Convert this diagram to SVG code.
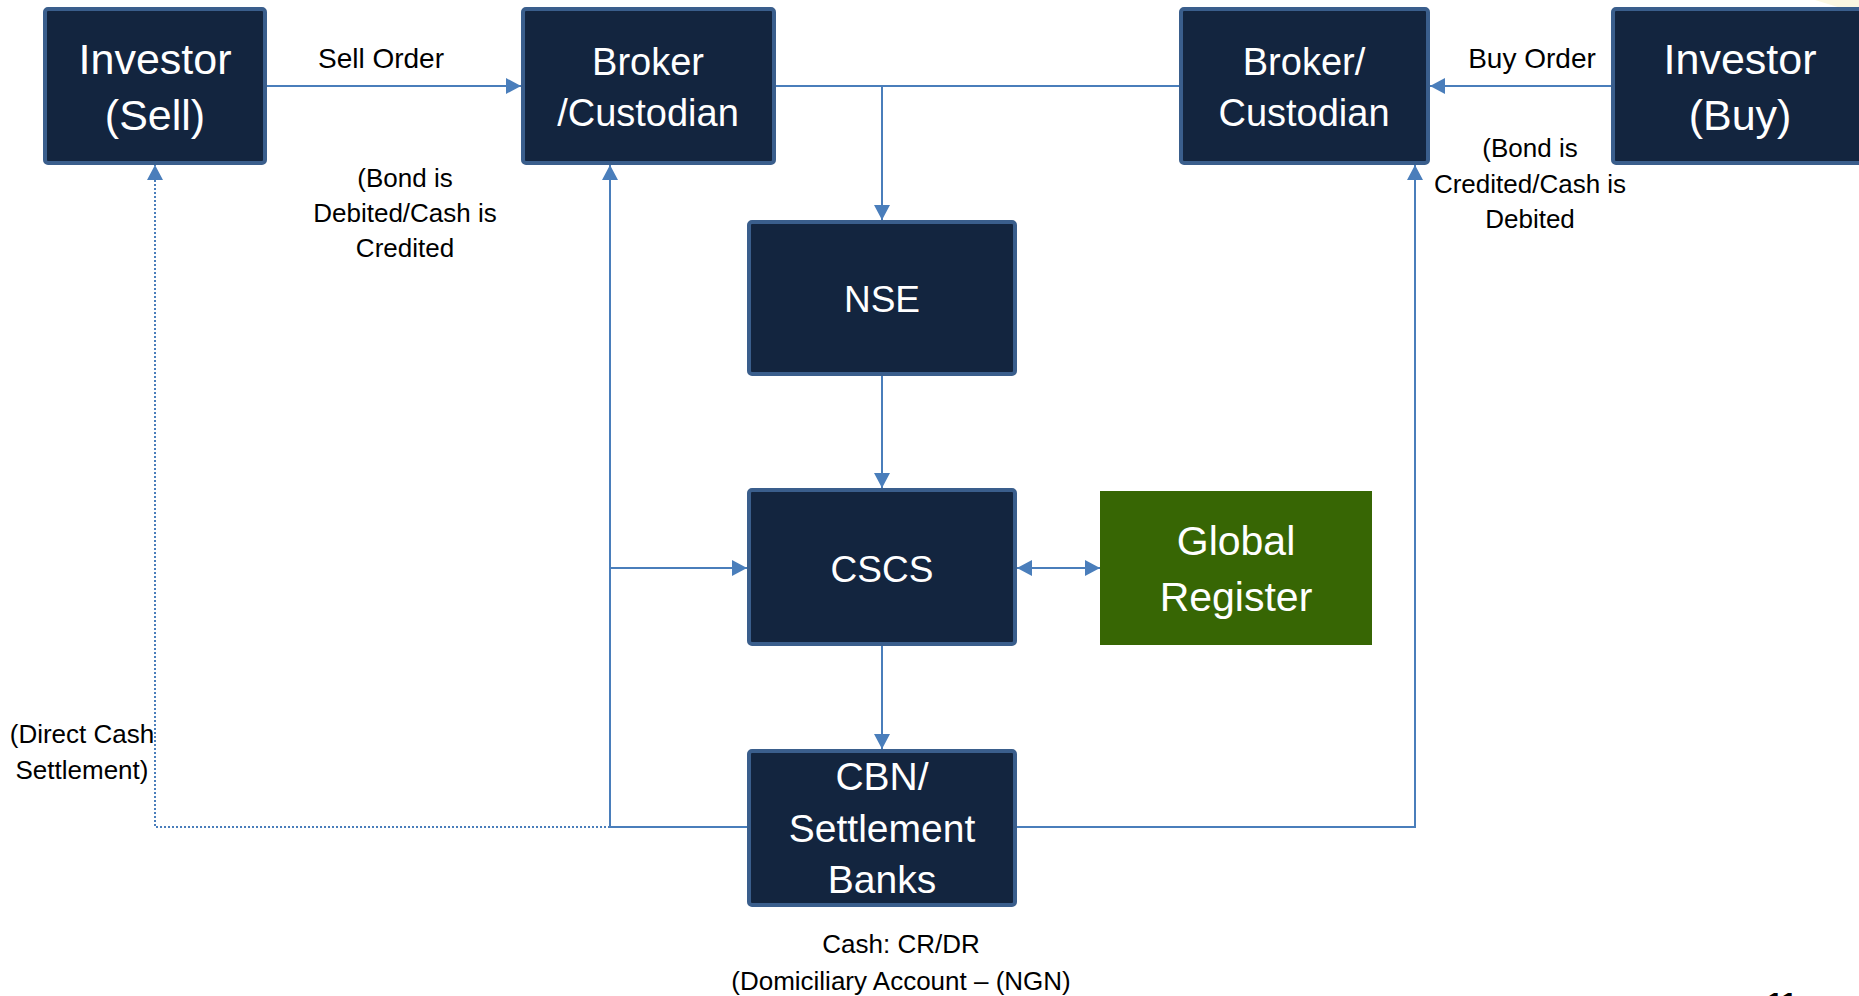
<svg xmlns="http://www.w3.org/2000/svg" width="1859" height="996" viewBox="0 0 1859 996">
<style>
.box{fill:#13253F;stroke:#3A5E8C;stroke-width:4}
.green{fill:#376604}
.nt{font-family:"Liberation Sans",Arial,sans-serif;fill:#FFFFFF;text-anchor:middle}
.lbl{font-family:"Liberation Sans",Arial,sans-serif;fill:#000000;text-anchor:middle;font-size:26px}
.c{fill:none;stroke:#4A7EBB;stroke-width:2}
.dot{fill:none;stroke:#4A7EBB;stroke-width:2;stroke-dasharray:2 2}
</style>
<defs>
<marker id="ah" markerUnits="userSpaceOnUse" markerWidth="16" markerHeight="16" refX="15" refY="8" orient="auto">
<path d="M0,0 L15,8 L0,16 z" fill="#4A7EBB"/>
</marker>
<marker id="as" markerUnits="userSpaceOnUse" markerWidth="16" markerHeight="16" refX="0" refY="8" orient="auto">
<path d="M15,0 L0,8 L15,16 z" fill="#4A7EBB"/>
</marker>
</defs>
<rect width="1859" height="996" fill="#FFFFFF"/>
<path d="M1815,0 Q1835,6 1859,14 L1859,0 z" fill="#FBF7E2"/>

<g id="connectors">
<path class="c" d="M267,86 H521" marker-end="url(#ah)"/>
<path class="c" d="M776,86 H1179"/>
<path class="c" d="M882,86 V220" marker-end="url(#ah)"/>
<path class="c" d="M1611,86 H1430" marker-end="url(#ah)"/>
<path class="c" d="M882,376 V488" marker-end="url(#ah)"/>
<path class="c" d="M1017,568 H1100" marker-start="url(#as)" marker-end="url(#ah)"/>
<path class="c" d="M882,646 V749" marker-end="url(#ah)"/>
<path class="c" d="M1017,827 H1415 V165" marker-end="url(#ah)"/>
<path class="c" d="M747,827 H610 V165" marker-end="url(#ah)"/>
<path class="c" d="M610,568 H747" marker-end="url(#ah)"/>
<path class="dot" d="M610,827 H155 V165" marker-end="url(#ah)"/>
</g>

<g id="investor-sell">
<rect class="box" x="45" y="9" width="220" height="154" rx="3"/>
<text class="nt" font-size="43" x="155" y="74">Investor</text>
<text class="nt" font-size="43" x="155" y="130">(Sell)</text>
</g>
<g id="broker-left">
<rect class="box" x="523" y="9" width="251" height="154" rx="3"/>
<text class="nt" font-size="38" x="648" y="75">Broker</text>
<text class="nt" font-size="38" x="648" y="126">/Custodian</text>
</g>
<g id="broker-right">
<rect class="box" x="1181" y="9" width="247" height="154" rx="3"/>
<text class="nt" font-size="38" x="1304" y="75">Broker/</text>
<text class="nt" font-size="38" x="1304" y="126">Custodian</text>
</g>
<g id="investor-buy">
<rect class="box" x="1613" y="9" width="260" height="154" rx="3"/>
<text class="nt" font-size="43" x="1740" y="74">Investor</text>
<text class="nt" font-size="43" x="1740" y="130">(Buy)</text>
</g>
<g id="nse">
<rect class="box" x="749" y="222" width="266" height="152" rx="3"/>
<text class="nt" font-size="37" x="882" y="312">NSE</text>
</g>
<g id="cscs">
<rect class="box" x="749" y="490" width="266" height="154" rx="3"/>
<text class="nt" font-size="37" x="882" y="582">CSCS</text>
</g>
<g id="global-register">
<rect class="green" x="1100" y="491" width="272" height="154"/>
<text class="nt" font-size="41" x="1236" y="555">Global</text>
<text class="nt" font-size="41" x="1236" y="611">Register</text>
</g>
<g id="cbn">
<rect class="box" x="749" y="751" width="266" height="154" rx="3"/>
<text class="nt" font-size="39" x="882" y="790">CBN/</text>
<text class="nt" font-size="39" x="882" y="842">Settlement</text>
<text class="nt" font-size="39" x="882" y="893">Banks</text>
</g>

<g id="labels">
<text class="lbl" font-size="28" style="font-size:28px" x="381" y="68">Sell Order</text>
<text class="lbl" style="font-size:28px" x="1532" y="68">Buy Order</text>
<text class="lbl" x="405" y="187">(Bond is</text>
<text class="lbl" x="405" y="222">Debited/Cash is</text>
<text class="lbl" x="405" y="257">Credited</text>
<text class="lbl" x="1530" y="157">(Bond is</text>
<text class="lbl" x="1530" y="193">Credited/Cash is</text>
<text class="lbl" x="1530" y="228">Debited</text>
<text class="lbl" x="82" y="743">(Direct Cash</text>
<text class="lbl" x="82" y="779">Settlement)</text>
<text class="lbl" x="901" y="953">Cash: CR/DR</text>
<text class="lbl" x="901" y="990">(Domiciliary Account – (NGN)</text>
<text class="lbl" style="font-size:28px;font-weight:bold" x="1782" y="1012">11</text>
</g>
</svg>
